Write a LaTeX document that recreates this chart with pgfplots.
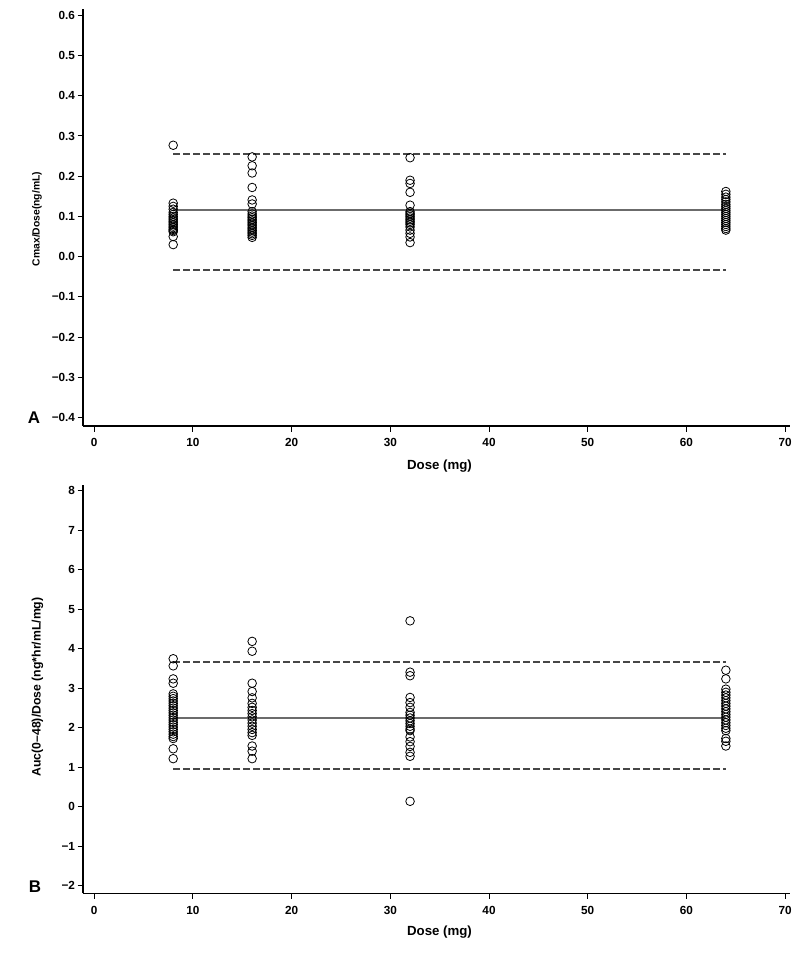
\documentclass[border=0pt]{standalone}
\usepackage{pgfplots}
\pgfplotsset{compat=1.18}
\usepackage{fontspec}
\setmainfont{Liberation Sans}
\begin{document}
\begin{tikzpicture}
\useasboundingbox (0bp,0bp) rectangle (803bp,-965bp);
\pgfplotsset{
 myax/.style={
  scale only axis, width=707bp,
  xmin=-1.14, xmax=70.5,
  axis x line=bottom, axis y line=left,
  axis line style={-, line width=1.5bp, black},
  tick align=outside, major tick length=5.5bp,
  tick style={line width=1bp, black},
  xtick={0,10,20,30,40,50,60,70},
  xticklabels={0,10,20,30,40,50,60,70},
  ticklabel style={font=\fontsize{11.8}{13}\selectfont\bfseries},
  yticklabel style={xshift=1bp},
  xticklabel style={yshift=-3.5bp},
  clip=false,
 },
 pts/.style={only marks, mark=o, mark size=4.3bp, mark options={line width=0.8bp, black}},
 mean/.style={line width=1.5bp, color=black!58, no marks},
 lim/.style={line width=2bp, color=black!72, dash pattern=on 6.5bp off 3.5bp, no marks},
}
\begin{axis}[myax, at={(83bp,-426bp)}, anchor=south west, height=416.7bp,
  ymin=-0.421, ymax=0.615,
  ytick={-0.4,-0.3,-0.2,-0.1,0,0.1,0.2,0.3,0.4,0.5,0.6},
  yticklabels={−0.4,−0.3,−0.2,−0.1,0.0,0.1,0.2,0.3,0.4,0.5,0.6}]
\addplot[lim] coordinates {(8,0.255) (64,0.255)};
\addplot[lim] coordinates {(8,-0.032) (64,-0.032)};
\addplot[mean] coordinates {(8,0.116) (64,0.116)};
\addplot[pts] table {
x y
8 0.277
8 0.133
8 0.125
8 0.118
8 0.110
8 0.105
8 0.100
8 0.096
8 0.092
8 0.088
8 0.084
8 0.080
8 0.076
8 0.072
8 0.068
8 0.065
8 0.062
8 0.050
8 0.030
};
\addplot[pts] table {
x y
16 0.248
16 0.226
16 0.208
16 0.172
16 0.141
16 0.131
16 0.112
16 0.106
16 0.101
16 0.097
16 0.093
16 0.089
16 0.085
16 0.081
16 0.077
16 0.073
16 0.069
16 0.065
16 0.061
16 0.057
16 0.053
16 0.048
};
\addplot[pts] table {
x y
32 0.246
32 0.190
32 0.182
32 0.160
32 0.128
32 0.112
32 0.108
32 0.104
32 0.100
32 0.096
32 0.092
32 0.088
32 0.084
32 0.080
32 0.074
32 0.066
32 0.058
32 0.049
32 0.035
};
\addplot[pts] table {
x y
64 0.162
64 0.155
64 0.148
64 0.142
64 0.136
64 0.130
64 0.125
64 0.120
64 0.115
64 0.110
64 0.105
64 0.100
64 0.095
64 0.090
64 0.085
64 0.080
64 0.075
64 0.070
64 0.066
};
\end{axis}
\begin{axis}[myax, at={(83bp,-893.3bp)}, anchor=south west, height=408.3bp,
  ymin=-2.19, ymax=8.15,
  ytick={-2,-1,0,1,2,3,4,5,6,7,8},
  yticklabels={−2,−1,0,1,2,3,4,5,6,7,8}]
\addplot[lim] coordinates {(8,3.66) (64,3.66)};
\addplot[lim] coordinates {(8,0.96) (64,0.96)};
\addplot[mean] coordinates {(8,2.25) (64,2.25)};
\addplot[pts] table {
x y
8 3.75
8 3.57
8 3.24
8 3.13
8 2.86
8 2.80
8 2.74
8 2.68
8 2.62
8 2.56
8 2.50
8 2.44
8 2.38
8 2.32
8 2.26
8 2.20
8 2.14
8 2.08
8 2.02
8 1.96
8 1.90
8 1.84
8 1.78
8 1.73
8 1.47
8 1.22
};
\addplot[pts] table {
x y
16 4.19
16 3.94
16 3.13
16 2.92
16 2.76
16 2.62
16 2.52
16 2.44
16 2.36
16 2.28
16 2.20
16 2.12
16 2.04
16 1.96
16 1.88
16 1.81
16 1.54
16 1.41
16 1.22
};
\addplot[pts] table {
x y
32 4.71
32 3.41
32 3.32
32 2.77
32 2.64
32 2.52
32 2.39
32 2.32
32 2.25
32 2.18
32 2.11
32 2.04
32 1.97
32 1.93
32 1.77
32 1.65
32 1.53
32 1.38
32 1.28
32 0.14
};
\addplot[pts] table {
x y
64 3.46
64 3.24
64 2.98
64 2.90
64 2.83
64 2.76
64 2.69
64 2.62
64 2.55
64 2.48
64 2.41
64 2.34
64 2.27
64 2.20
64 2.13
64 2.06
64 1.99
64 1.93
64 1.73
64 1.66
64 1.54
};
\end{axis}
\node[rotate=90, font=\fontsize{10.4}{12}\selectfont\bfseries] at (37bp,-219bp) {Cmax/Dose(ng/mL)};
\node[rotate=90, font=\fontsize{12.3}{14}\selectfont\bfseries] at (37.5bp,-687bp) {Auc(0–48)/Dose (ng*hr/mL/mg)};
\node[font=\fontsize{17}{19}\selectfont\bfseries] at (34bp,-418bp) {A};
\node[font=\fontsize{17}{19}\selectfont\bfseries] at (35bp,-887bp) {B};
\node[font=\fontsize{13.3}{15}\selectfont\bfseries] at (439.5bp,-466bp) {Dose (mg)};
\node[font=\fontsize{13.3}{15}\selectfont\bfseries] at (439.5bp,-932bp) {Dose (mg)};
\end{tikzpicture}
\end{document}
